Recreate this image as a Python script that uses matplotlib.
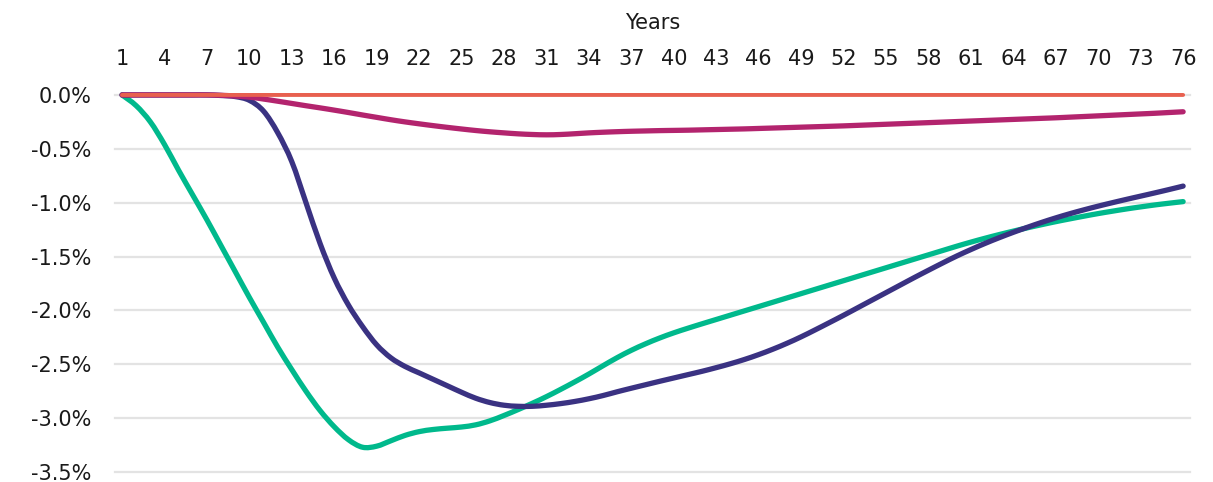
import matplotlib
matplotlib.use("Agg")
import matplotlib.pyplot as plt
from matplotlib.path import Path
from matplotlib.patches import PathPatch
import numpy as np

years = list(range(1, 77))

series_red = [0.0] * 76

series_magenta = [
    0.0, 0.0, 0.0, 0.0, 0.0, 0.0, 0.0, -0.003, -0.01, -0.02,
    -0.038, -0.058, -0.079, -0.10, -0.12, -0.141, -0.163, -0.186, -0.208, -0.23,
    -0.25, -0.268, -0.285, -0.301, -0.316, -0.33, -0.342, -0.352, -0.361, -0.367,
    -0.37, -0.367, -0.36, -0.352, -0.346, -0.341, -0.337, -0.334, -0.331, -0.329,
    -0.327, -0.324, -0.321, -0.318, -0.315, -0.311, -0.307, -0.303, -0.299, -0.295,
    -0.291, -0.287, -0.282, -0.277, -0.272, -0.267, -0.262, -0.257, -0.252, -0.247,
    -0.242, -0.237, -0.232, -0.227, -0.222, -0.217, -0.212, -0.206, -0.200, -0.194,
    -0.188, -0.182, -0.176, -0.170, -0.163, -0.156,
]

series_navy = [
    0.0, 0.0, 0.0, 0.0, 0.0, 0.0, 0.0, -0.005, -0.015, -0.05,
    -0.15, -0.35, -0.62, -1.00, -1.38, -1.70, -1.95, -2.15, -2.32, -2.44,
    -2.52, -2.58, -2.64, -2.70, -2.76, -2.815, -2.855, -2.88, -2.89, -2.89,
    -2.88, -2.865, -2.845, -2.82, -2.79, -2.755, -2.722, -2.69, -2.658, -2.627,
    -2.596, -2.565, -2.531, -2.495, -2.455, -2.41, -2.36, -2.305, -2.245, -2.18,
    -2.113, -2.045, -1.975, -1.905, -1.835, -1.765, -1.695, -1.627, -1.56, -1.495,
    -1.435, -1.378, -1.325, -1.275, -1.228, -1.183, -1.141, -1.102, -1.066, -1.032,
    -1.0, -0.969, -0.939, -0.909, -0.878, -0.846,
]

series_green = [
    0.0, -0.10, -0.25, -0.46, -0.70, -0.93, -1.16, -1.40, -1.64, -1.88,
    -2.11, -2.34, -2.55, -2.75, -2.93, -3.08, -3.20, -3.27, -3.26, -3.21,
    -3.16, -3.125, -3.105, -3.093, -3.082, -3.062, -3.025, -2.975, -2.92, -2.862,
    -2.80, -2.733, -2.663, -2.59, -2.513, -2.438, -2.37, -2.31, -2.256, -2.208,
    -2.165, -2.124, -2.084, -2.044, -2.004, -1.964, -1.924, -1.884, -1.844, -1.804,
    -1.764, -1.724, -1.684, -1.644, -1.604, -1.564, -1.524, -1.484, -1.444, -1.404,
    -1.366, -1.33, -1.296, -1.264, -1.233, -1.204, -1.176, -1.15, -1.125, -1.101,
    -1.079, -1.058, -1.039, -1.021, -1.005, -0.99,
]

xtick_values = list(range(1, 77, 3))
ytick_values = [0.0, -0.5, -1.0, -1.5, -2.0, -2.5, -3.0, -3.5]
x_label = "Years"

plt.rcParams['font.family'] = ['DejaVu Sans']


def smooth_path(xs, ys):
    """Catmull-Rom style smoothing (like a spreadsheet 'smoothed line') as Bezier path."""
    xs = np.asarray(xs, float)
    ys = np.asarray(ys, float)
    pts = np.column_stack([xs, ys])
    n = len(pts)
    verts = [pts[0]]
    codes = [Path.MOVETO]
    t = 1.0 / 6.0
    for i in range(n - 1):
        p0 = pts[i - 1] if i > 0 else pts[i]
        p1 = pts[i]
        p2 = pts[i + 1]
        p3 = pts[i + 2] if i + 2 < n else pts[i + 1]
        c1 = p1 + (p2 - p0) * t
        c2 = p2 - (p3 - p1) * t
        verts += [c1, c2, p2]
        codes += [Path.CURVE4] * 3
    return Path(verts, codes)


fig = plt.figure(figsize=(12.13, 4.82), dpi=100)
ax = fig.add_axes([0.0948, 0.0207, 0.9862 - 0.0948 - 0.005, 0.803 - 0.0207])

ax.set_xlim(0.5, 76.5)
ax.set_ylim(-3.5, 0.0)

for y in ytick_values:
    ax.axhline(y, color='#E3E3E3', lw=1.6, zorder=0, clip_on=False)

styles = [
    (series_green, '#00B98C', 3.8, 3),
    (series_navy, '#3A3282', 3.8, 4),
    (series_magenta, '#B3246E', 3.8, 5),
    (series_red, '#E8604F', 2.8, 6),
]
for data, color, lw, z in styles:
    patch = PathPatch(smooth_path(years, data), facecolor='none', edgecolor=color,
                      lw=lw, capstyle='round', joinstyle='round', zorder=z, clip_on=False)
    ax.add_patch(patch)

ax.xaxis.tick_top()
ax.xaxis.set_label_position('top')
ax.set_xticks(xtick_values)
ax.set_xticklabels([str(v) for v in xtick_values])
ax.set_xlabel(x_label, fontsize=15, labelpad=14, color='#1a1a1a')
ax.set_yticks(ytick_values)
ax.set_yticklabels([f"{v:.1f}%" for v in ytick_values])

ax.tick_params(axis='x', length=0, pad=19, labelsize=15, colors='#1a1a1a')
ax.tick_params(axis='y', length=0, pad=17, labelsize=15, colors='#1a1a1a')

for s in ax.spines.values():
    s.set_visible(False)

fig.savefig("out.png", dpi=100, facecolor='white')
